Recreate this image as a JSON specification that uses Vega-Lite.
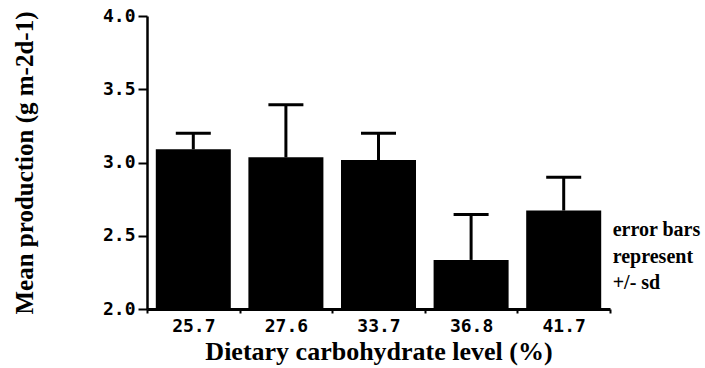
{
  "$schema": "https://vega.github.io/schema/vega-lite/v6.json",
  "autosize": {"type": "none"},
  "padding": {"left": 147, "top": 16, "right": 95, "bottom": 59},
  "width": 463,
  "height": 293,
  "background": "white",
  "config": {"view": {"stroke": null}},
  "data": {"values": [
    {"level": "25.7", "mean": 3.09, "upper": 3.20},
    {"level": "27.6", "mean": 3.035, "upper": 3.395},
    {"level": "33.7", "mean": 3.017, "upper": 3.20},
    {"level": "36.8", "mean": 2.335, "upper": 2.645},
    {"level": "41.7", "mean": 2.672, "upper": 2.90}
  ]},
  "encoding": {
    "x": {
      "field": "level", "type": "nominal", "sort": null,
      "scale": {"paddingInner": 0, "paddingOuter": 0},
      "axis": {
        "title": "Dietary carbohydrate level (%)",
        "titleFont": "Liberation Serif", "titleFontSize": 26, "titleFontWeight": "bold",
        "titleColor": "black", "titlePadding": 3,
        "labelFont": "DejaVu Sans Mono", "labelFontSize": 18, "labelFontWeight": "bold",
        "labelColor": "black", "labelAngle": 0, "labelPadding": 4,
        "tickBand": "extent", "tickSize": 4, "tickWidth": 2, "tickColor": "black",
        "domainColor": "black", "domainWidth": 3
      }
    }
  },
  "layer": [
    {
      "mark": {"type": "rule", "color": "black", "strokeWidth": 3},
      "encoding": {
        "y": {"field": "mean", "type": "quantitative"},
        "y2": {"field": "upper"}
      }
    },
    {
      "mark": {"type": "tick", "color": "black", "size": 35, "thickness": 3, "opacity": 1},
      "encoding": {
        "y": {"field": "upper", "type": "quantitative"}
      }
    },
    {
      "mark": {"type": "bar", "color": "black", "width": {"band": 0.81}},
      "encoding": {
        "y": {
          "field": "mean", "type": "quantitative",
          "scale": {"domain": [2, 4], "zero": false, "nice": false},
          "axis": {
            "title": "Mean production (g m-2d-1)",
            "titleFont": "Liberation Serif", "titleFontSize": 25, "titleFontWeight": "bold",
            "titleColor": "black", "titlePadding": 65,
            "values": [2, 2.5, 3, 3.5, 4], "format": ".1f",
            "labelFont": "DejaVu Sans Mono", "labelFontSize": 18, "labelFontWeight": "bold",
            "labelColor": "black", "labelPadding": 3,
            "tickSize": 9, "tickWidth": 2, "tickColor": "black",
            "domainColor": "black", "domainWidth": 2.5, "grid": false
          }
        },
        "y2": {"datum": 2}
      }
    },
    {
      "data": {"values": [{"level": "41.7", "ypos": 2.539, "note": ["error bars", "represent", "+/- sd"]}]},
      "mark": {"type": "text", "align": "left", "baseline": "middle", "dx": 49,
               "font": "Liberation Serif", "fontSize": 20, "fontWeight": "bold",
               "lineHeight": 26.5, "color": "black"},
      "encoding": {
        "y": {"field": "ypos", "type": "quantitative"},
        "text": {"field": "note"}
      }
    }
  ]
}
